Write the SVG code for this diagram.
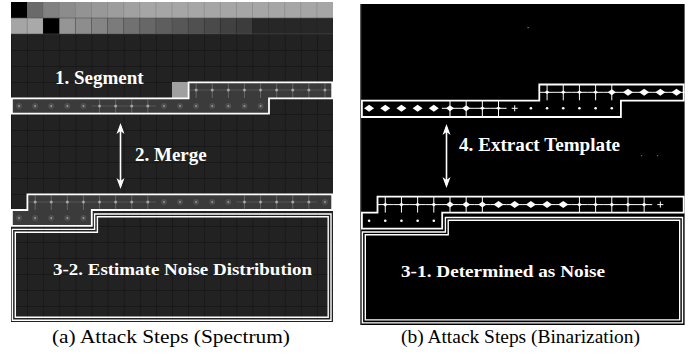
<svg xmlns="http://www.w3.org/2000/svg" xmlns:xlink="http://www.w3.org/1999/xlink" width="696" height="362" viewBox="0 0 696 362">
<style>
.lbl{font-family:"Liberation Serif","Times New Roman",serif;font-weight:bold;fill:#fff}
.cap{font-family:"Liberation Serif","Times New Roman",serif;font-size:18px;fill:#000}
.seg{fill:none;stroke:#fff;stroke-width:1.8}
.nz{fill:none;stroke:#fff;stroke-width:1.4}
.arr{stroke:#fff;stroke-width:1.6;fill:none}
.lcell{fill:#3b3b3b}
.rl{stroke:#fff;stroke-width:1}
</style>
<defs>
<pattern id="lgrid" x="11" y="2" width="16.1" height="16" patternUnits="userSpaceOnUse">
<rect width="16.1" height="16" fill="#222"/>
<path d="M0,0.5 H16.1 M0.5,0 V16" stroke="#181818" stroke-width="1"/>
</pattern>
<g id="lx"><line x1="0" y1="-8" x2="0" y2="8" stroke="#fff" stroke-opacity=".22"/><line x1="-8" y1="0" x2="8" y2="0" stroke="#fff" stroke-opacity=".14"/><circle r="1.6" fill="#ddd" fill-opacity=".55"/></g>
<g id="ld"><circle r="3" fill="#fff" fill-opacity=".1"/><circle r="1" fill="#ccc" fill-opacity=".55"/></g>
<g id="rx"><line x1="0" y1="-8" x2="0" y2="8" class="rl"/><line x1="-8.1" y1="0" x2="8.1" y2="0" class="rl"/><path d="M-2.5,0 L0,-1.8 L2.5,0 L0,1.8Z" fill="#fff"/></g>
<g id="rxd"><line x1="0" y1="-8" x2="0" y2="8" class="rl"/><line x1="-8.1" y1="0" x2="8.1" y2="0" class="rl"/><path d="M-4,0 L0,-3 L4,0 L0,3Z" fill="#fff"/></g>
<g id="rdl"><line x1="-8.1" y1="0" x2="8.1" y2="0" class="rl"/><path d="M-5,0 L0,-3.5 L5,0 L0,3.5Z" fill="#fff"/></g>
<path id="rd" d="M-5,0 L0,-3.5 L5,0 L0,3.5Z" fill="#fff"/>
<g id="rsx"><line x1="0" y1="-3" x2="0" y2="3" class="rl"/><line x1="-3" y1="0" x2="3" y2="0" class="rl"/></g>
<circle id="rs" r="1.3" fill="#fff"/>
</defs>
<rect width="696" height="362" fill="#fff"/>

<!-- Left panel: spectrum -->
<g id="panel-a">
<rect x="11" y="2" width="322" height="320" fill="url(#lgrid)"/>
<rect x="11" y="2" width="322" height="16" fill="#a6a6a6"/>
<rect x="11" y="2" width="16.1" height="16" fill="#000"/>
<rect x="27.1" y="2" width="16.1" height="16" fill="#6a6a6a"/>
<rect x="43.2" y="2" width="16.1" height="16" fill="#818181"/>
<rect x="59.3" y="2" width="16.1" height="16" fill="#8c8c8c"/>
<rect x="75.4" y="2" width="16.1" height="16" fill="#939393"/>
<rect x="91.5" y="2" width="16.1" height="16" fill="#989898"/>
<rect x="107.6" y="2" width="16.1" height="16" fill="#9d9d9d"/>
<rect x="123.7" y="2" width="16.1" height="16" fill="#a1a1a1"/>
<rect x="11" y="18" width="16.1" height="16" fill="#a5a5a5"/>
<rect x="27.1" y="18" width="16.1" height="16" fill="#a9a9a9"/>
<rect x="43.2" y="18" width="16.1" height="16" fill="#000"/>
<rect x="59.3" y="18" width="16.1" height="16" fill="#959595"/>
<rect x="75.4" y="18" width="16.1" height="16" fill="#8d8d8d"/>
<rect x="91.5" y="18" width="16.1" height="16" fill="#858585"/>
<rect x="107.6" y="18" width="16.1" height="16" fill="#7b7b7b"/>
<rect x="123.7" y="18" width="16.1" height="16" fill="#717171"/>
<rect x="139.8" y="18" width="16.1" height="16" fill="#676767"/>
<rect x="155.9" y="18" width="16.1" height="16" fill="#5e5e5e"/>
<rect x="172" y="18" width="16.1" height="16" fill="#575757"/>
<rect x="188.1" y="18" width="16.1" height="16" fill="#505050"/>
<rect x="204.2" y="18" width="16.1" height="16" fill="#4a4a4a"/>
<rect x="220.3" y="18" width="16.1" height="16" fill="#414141"/>
<rect x="236.4" y="18" width="16.1" height="16" fill="#3c3c3c"/>
<rect x="252.5" y="18" width="80.5" height="16" fill="#272727"/>
<path d="M11,18 H333 M11,34 H333" stroke="#555" stroke-opacity=".6" stroke-width="1"/>
<path d="M27.1,2 V34 M43.2,2 V34 M59.3,2 V34 M75.4,2 V34 M91.5,2 V34 M107.6,2 V34 M123.7,2 V34 M139.8,2 V34 M155.9,2 V34 M172,2 V34 M188.1,2 V34 M204.2,2 V34 M220.3,2 V34 M236.4,2 V34 M252.5,2 V34 M268.6,2 V34 M284.7,2 V34 M300.8,2 V34 M316.9,2 V34" stroke="#000" stroke-opacity=".12" stroke-width="1"/>
<rect x="172" y="82" width="16.1" height="16" fill="#a0a0a0"/>
<rect x="188.1" y="82" width="144.9" height="16" class="lcell"/>
<rect x="11" y="98" width="257.6" height="16" class="lcell"/>
<rect x="27.1" y="194" width="305.9" height="16" class="lcell"/>
<rect x="11" y="210" width="80.5" height="16" class="lcell"/>
<g>
<use xlink:href="#lx" x="196.15" y="90"/><use xlink:href="#lx" x="212.25" y="90"/><use xlink:href="#lx" x="228.35" y="90"/><use xlink:href="#lx" x="244.45" y="90"/><use xlink:href="#lx" x="260.55" y="90"/><use xlink:href="#lx" x="276.65" y="90"/><use xlink:href="#lx" x="292.75" y="90"/><use xlink:href="#lx" x="308.85" y="90"/><use xlink:href="#lx" x="324.95" y="90"/>
<use xlink:href="#ld" x="19.05" y="106"/><use xlink:href="#ld" x="35.15" y="106"/><use xlink:href="#ld" x="51.25" y="106"/><use xlink:href="#ld" x="67.35" y="106"/><use xlink:href="#ld" x="83.45" y="106"/>
<use xlink:href="#lx" x="99.55" y="106"/><use xlink:href="#lx" x="115.65" y="106"/><use xlink:href="#lx" x="131.75" y="106"/><use xlink:href="#lx" x="147.85" y="106"/>
<use xlink:href="#ld" x="163.95" y="106"/><use xlink:href="#ld" x="180.05" y="106"/><use xlink:href="#ld" x="196.15" y="106"/><use xlink:href="#ld" x="212.25" y="106"/><use xlink:href="#ld" x="228.35" y="106"/><use xlink:href="#ld" x="244.45" y="106"/><use xlink:href="#ld" x="260.55" y="106"/>
<use xlink:href="#lx" x="35.15" y="202"/><use xlink:href="#lx" x="51.25" y="202"/><use xlink:href="#lx" x="67.35" y="202"/><use xlink:href="#lx" x="83.45" y="202"/><use xlink:href="#lx" x="99.55" y="202"/><use xlink:href="#lx" x="115.65" y="202"/><use xlink:href="#lx" x="131.75" y="202"/><use xlink:href="#lx" x="147.85" y="202"/>
<use xlink:href="#ld" x="163.95" y="202"/><use xlink:href="#ld" x="180.05" y="202"/><use xlink:href="#ld" x="196.15" y="202"/><use xlink:href="#ld" x="212.25" y="202"/><use xlink:href="#ld" x="228.35" y="202"/>
<use xlink:href="#lx" x="244.45" y="202"/><use xlink:href="#lx" x="260.55" y="202"/><use xlink:href="#lx" x="276.65" y="202"/><use xlink:href="#lx" x="292.75" y="202"/><use xlink:href="#lx" x="308.85" y="202"/><use xlink:href="#ld" x="324.95" y="202"/>
<use xlink:href="#ld" x="19.05" y="218"/><use xlink:href="#ld" x="35.15" y="218"/><use xlink:href="#ld" x="51.25" y="218"/><use xlink:href="#ld" x="67.35" y="218"/><use xlink:href="#ld" x="83.45" y="218"/>
</g>
</g>

<!-- Right panel: binarization -->
<g id="panel-b">
<rect x="361" y="4" width="323.6" height="321" fill="#000"/>
<line x1="361" y1="4" x2="361" y2="325" stroke="#222" stroke-width="1.5"/>
<rect x="527.5" y="27" width="1.2" height="1.2" fill="#888"/>
<rect x="641" y="155" width="1.2" height="1.2" fill="#666"/>
<rect x="657" y="155" width="1.2" height="1.2" fill="#666"/>
<use xlink:href="#rx" x="547.07" y="92.3"/><use xlink:href="#rx" x="563.25" y="92.3"/><use xlink:href="#rx" x="579.43" y="92.3"/><use xlink:href="#rx" x="595.61" y="92.3"/><use xlink:href="#rxd" x="611.79" y="92.3"/>
<use xlink:href="#rdl" x="627.97" y="92.3"/><use xlink:href="#rdl" x="644.15" y="92.3"/><use xlink:href="#rdl" x="660.33" y="92.3"/><use xlink:href="#rdl" x="676.51" y="92.3"/>
<use xlink:href="#rd" x="369.09" y="108.3"/><use xlink:href="#rd" x="385.27" y="108.3"/><use xlink:href="#rd" x="401.45" y="108.3"/><use xlink:href="#rd" x="417.63" y="108.3"/><use xlink:href="#rd" x="433.81" y="108.3"/>
<use xlink:href="#rxd" x="449.99" y="108.3"/><use xlink:href="#rxd" x="466.17" y="108.3"/><use xlink:href="#rx" x="482.35" y="108.3"/><use xlink:href="#rx" x="498.53" y="108.3"/>
<use xlink:href="#rsx" x="514.71" y="108.3"/><use xlink:href="#rs" x="530.89" y="108.3"/><use xlink:href="#rs" x="547.07" y="108.3"/><use xlink:href="#rs" x="563.25" y="108.3"/><use xlink:href="#rs" x="579.43" y="108.3"/><use xlink:href="#rs" x="595.61" y="108.3"/><use xlink:href="#rs" x="611.79" y="108.3"/>
<use xlink:href="#rx" x="385.27" y="204.6"/><use xlink:href="#rx" x="401.45" y="204.6"/><use xlink:href="#rx" x="417.63" y="204.6"/><use xlink:href="#rx" x="433.81" y="204.6"/>
<use xlink:href="#rxd" x="449.99" y="204.6"/><use xlink:href="#rxd" x="466.17" y="204.6"/><use xlink:href="#rxd" x="482.35" y="204.6"/>
<use xlink:href="#rdl" x="498.53" y="204.6"/><use xlink:href="#rdl" x="514.71" y="204.6"/><use xlink:href="#rdl" x="530.89" y="204.6"/><use xlink:href="#rdl" x="547.07" y="204.6"/><use xlink:href="#rdl" x="563.25" y="204.6"/>
<use xlink:href="#rx" x="579.43" y="204.6"/><use xlink:href="#rx" x="595.61" y="204.6"/><use xlink:href="#rx" x="611.79" y="204.6"/><use xlink:href="#rx" x="627.97" y="204.6"/><use xlink:href="#rx" x="644.15" y="204.6"/><use xlink:href="#rsx" x="660.33" y="204.6"/>
<use xlink:href="#rs" x="369.09" y="220.7"/><use xlink:href="#rs" x="385.27" y="220.7"/><use xlink:href="#rs" x="401.45" y="220.7"/><use xlink:href="#rs" x="417.63" y="220.7"/><use xlink:href="#rs" x="433.81" y="220.7"/>
</g>

<!-- Segment outlines -->
<g id="segment-a"><path class="seg" d="M11.9,98.3 H188.6 V82.3 H332.2 V98.3 H269 V113.6 H11.9 Z"/></g>
<g id="merged-a"><path class="seg" d="M27.4,194.3 H332.2 V210 H91.8 V225.8 H11.9 V210 H27.4 Z"/></g>
<g id="noise-a"><path class="nz" d="M94.6,214 H331 V320.3 H12.4 V229.4 H94.6 Z"/><path class="nz" d="M97.4,216.8 H328.2 V317.3 H15.3 V232.2 H97.4 Z" stroke-width="1"/></g>
<g id="segment-b"><path class="seg" d="M361.9,100.6 H539.3 V84.5 H683.7 V100.6 H620.9 V117 H361.9 Z"/></g>
<g id="merged-b"><path class="seg" d="M377.5,196.6 H683.7 V212.7 H442.2 V228.6 H361.9 V212.7 H377.5 Z"/></g>
<g id="noise-b"><path class="nz" d="M445.4,217.5 H682.5 V322.9 H362.4 V232 H445.4 Z"/><path class="nz" d="M448.2,220.3 H679.7 V319.9 H365.3 V234.8 H448.2 Z" stroke-width="1"/></g>

<!-- Connectors -->
<g id="connectors">
<path class="arr" d="M120.5,126 V186"/>
<path d="M120.5,123 L116.5,134 L120.5,131 L124.5,134 Z M120.5,189 L116.5,178 L120.5,181 L124.5,178 Z" fill="#fff"/>
<path class="arr" d="M446.5,127 V185"/>
<path d="M446.5,124 L442.5,135 L446.5,132 L450.5,135 Z M446.5,188 L442.5,177 L446.5,180 L450.5,177 Z" fill="#fff"/>
</g>

<!-- Labels -->
<g id="labels">
<text class="lbl" x="55" y="84" font-size="19">1. Segment</text>
<text class="lbl" x="135" y="161" font-size="19">2. Merge</text>
<text class="lbl" x="53" y="275" font-size="17" textLength="259" lengthAdjust="spacingAndGlyphs">3-2. Estimate Noise Distribution</text>
<text class="lbl" x="459" y="151" font-size="18" textLength="161" lengthAdjust="spacingAndGlyphs">4. Extract Template</text>
<text class="lbl" x="401" y="277" font-size="17" textLength="204" lengthAdjust="spacingAndGlyphs">3-1. Determined as Noise</text>
<text class="cap" x="52" y="343" textLength="238" lengthAdjust="spacingAndGlyphs">(a) Attack Steps (Spectrum)</text>
<text class="cap" x="401" y="343" textLength="239" lengthAdjust="spacingAndGlyphs">(b) Attack Steps (Binarization)</text>
</g>
</svg>
